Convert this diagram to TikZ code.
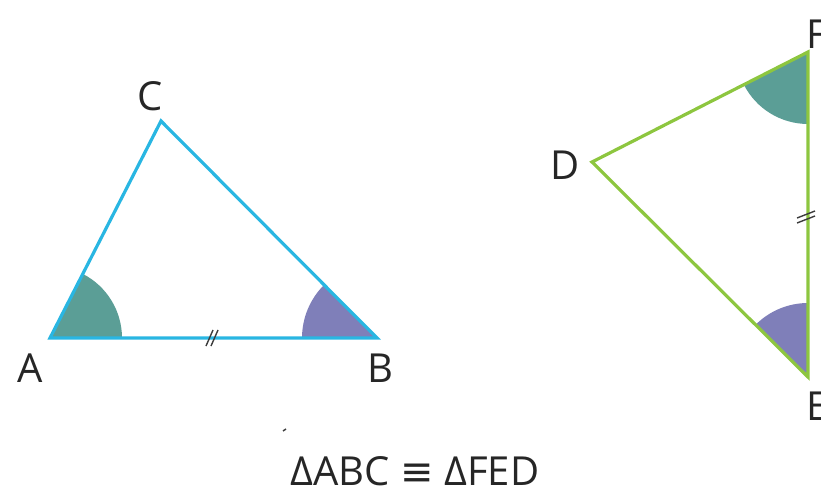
\documentclass[tikz,border=0pt]{standalone}
\usepackage{fontspec}
\setmainfont{Open Sans}
\newfontfamily\dejavu{DejaVu Sans}
\definecolor{lblue}{RGB}{41,182,226}
\definecolor{lgreen}{RGB}{141,198,63}
\definecolor{tealf}{RGB}{91,158,150}
\definecolor{purpf}{RGB}{127,127,185}
\definecolor{tickc}{RGB}{60,60,60}
\begin{document}
\begin{tikzpicture}[x=1pt,y=-1pt,
  lbl/.style={font=\fontsize{40}{40}\selectfont, inner sep=0pt, text=black!85},
  bside/.style={draw=lblue, line width=3.2pt, line join=miter},
  gside/.style={draw=lgreen, line width=3.2pt, line join=miter},
  tick/.style={draw=tickc, line width=1.4pt}]
\useasboundingbox (0,0) rectangle (821,494);
\coordinate (A) at (50,338);
\coordinate (B) at (377,338);
\coordinate (C) at (161,121);
\coordinate (D) at (592,162);
\coordinate (F) at (808,52);
\coordinate (E) at (808,377);
% angle fills
\fill[tealf] (A) -- ++(0:72) arc[start angle=0, end angle=-62.9, radius=72] -- cycle;
\fill[purpf] (B) -- ++(180:75) arc[start angle=180, end angle=224.9, radius=75] -- cycle;
\fill[tealf] (F) -- ++(90:72) arc[start angle=90, end angle=153, radius=72] -- cycle;
\fill[purpf] (E) -- ++(224.9:74) arc[start angle=224.9, end angle=270, radius=74] -- cycle;
% triangles
\draw[bside] (A) -- (B) -- (C) -- cycle;
\draw[gside] (D) -- (F) -- (E) -- cycle;
% tick marks
\draw[tick] (206,346) -- (213,330);
\draw[tick] (211,346) -- (218,330);
\draw[tick] (797,218) -- (815,211);
\draw[tick] (797,223) -- (815,216);
% stray mark
\draw[tickc, line width=1.5pt] (283,431) -- (286,429);
% labels
\node[lbl] (la) at (30,368) {A};
\node[lbl] (lb) at (380,368) {B};
\node[lbl] (lc) at (150,96) {C};
\node[lbl] (ld) at (565,165) {D};
\node[lbl, anchor=west] (lf) at (806,34) {F};
\node[lbl, anchor=west] (le) at (806,406) {E};
\node[lbl, anchor=base] (eq) at (415,485) {ΔABC {\dejavu ≡} ΔFED};
\end{tikzpicture}
\end{document}
